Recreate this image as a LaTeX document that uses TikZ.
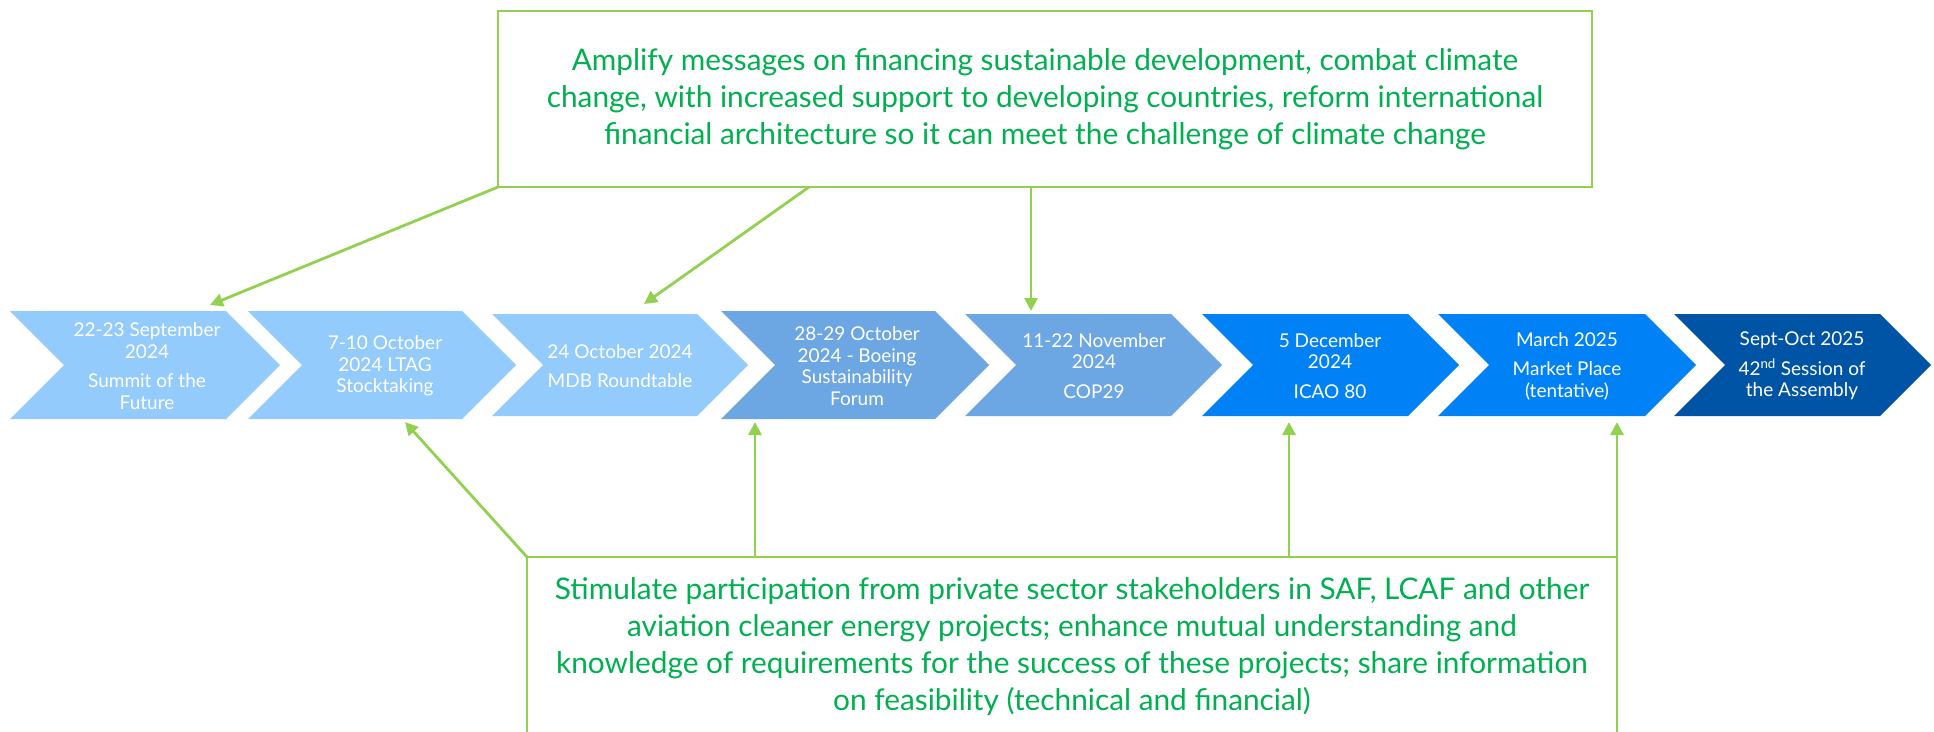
\documentclass[tikz,border=0pt]{standalone}
\usepackage{fontspec}
\setmainfont{Lato}
\usetikzlibrary{arrows.meta}

\definecolor{framegreen}{HTML}{92D050}
\definecolor{textgreen}{HTML}{00B050}
\definecolor{chevA}{HTML}{94CBFD}
\definecolor{chevB}{HTML}{6CA6E3}
\definecolor{chevC}{HTML}{0082F6}
\definecolor{chevD}{HTML}{0054A5}

\tikzset{
  goal/.style={draw=framegreen, line width=2.8pt, outer sep=0pt, text=textgreen, align=center, font=\fontsize{29.8}{37}\selectfont},
  link/.style={draw=framegreen, line width=2.8pt, -{Triangle[length=13pt,width=13pt]}},
  event/.style={text=white, align=center, font=\fontsize{19}{21.5}\selectfont},
}

\begin{document}
\begin{tikzpicture}[x=1pt,y=-1pt]
  \useasboundingbox (0,0) rectangle (1934,731);
  % the time line
  \fill[chevA] (10,311) -- ++(216,0) -- ++(54,54) -- ++(-54,54) -- ++(-216,0) -- ++(54,-54) -- cycle;
  \fill[chevA] (248,311) -- ++(214,0) -- ++(54,54) -- ++(-54,54) -- ++(-214,0) -- ++(54,-54) -- cycle;
  \fill[chevA] (492,314) -- ++(205,0) -- ++(51,51) -- ++(-51,51) -- ++(-205,0) -- ++(51,-51) -- cycle;
  \fill[chevB] (721,311) -- ++(214,0) -- ++(54,54) -- ++(-54,54) -- ++(-214,0) -- ++(54,-54) -- cycle;
  \fill[chevB] (965,314) -- ++(206,0) -- ++(51,51) -- ++(-51,51) -- ++(-206,0) -- ++(51,-51) -- cycle;
  \fill[chevC] (1202,314) -- ++(206,0) -- ++(51,51) -- ++(-51,51) -- ++(-206,0) -- ++(51,-51) -- cycle;
  \fill[chevC] (1438,314) -- ++(207,0) -- ++(51,51) -- ++(-51,51) -- ++(-207,0) -- ++(51,-51) -- cycle;
  \fill[chevD] (1674,314) -- ++(206,0) -- ++(51,51) -- ++(-51,51) -- ++(-206,0) -- ++(51,-51) -- cycle;
  \node[event] (summit) at (147,366) {22-23 September\\2024\\[8pt]Summit of the\\Future};
  \node[event] (ltag) at (385,366) {7-10 October\\2024 LTAG\\Stocktaking};
  \node[event] (mdb) at (620,366) {24 October 2024\\[8pt]MDB Roundtable};
  \node[event] (boeing) at (857,366) {28-29 October\\2024 - Boeing\\Sustainability\\Forum};
  \node[event] (cop) at (1094,366) {11-22 November\\2024\\[8pt]COP29};
  \node[event] (icao) at (1330,366) {5 December\\2024\\[8pt]ICAO 80};
  \node[event] (market) at (1567,366) {March 2025\\[8pt]Market Place\\(tentative)};
  \node[event] (assembly) at (1802,366) {Sept-Oct 2025\\[8pt]42\textsuperscript{nd} Session of\\the Assembly};
  % where the arrows meet the time line
  \coordinate (summit in) at (210,305);
  \coordinate (mdb in) at (644,304);
  \coordinate (cop in) at (1031,311);
  \coordinate (ltag out) at (405,422);
  \coordinate (boeing out) at (755,422);
  \coordinate (icao out) at (1289,422);
  \coordinate (market out) at (1617,422);
  % the two goals
  \node[goal, minimum width=1094pt, minimum height=176pt] (amplify) at (1045,99)
    {Amplify messages on financing sustainable development, combat climate\\change, with increased support to developing countries, reform international\\financial architecture so it can meet the challenge of climate change};
  \node[goal, draw=none, minimum width=1090pt, minimum height=180pt, anchor=north] (stimulate) at (1072,557)
    {Stimulate participation from private sector stakeholders in SAF, LCAF and other\\aviation cleaner energy projects; enhance mutual understanding and\\knowledge of requirements for the success of these projects; share information\\on feasibility (technical and financial)};
  \draw[draw=framegreen, line width=2.8pt] (stimulate.south west) -- (stimulate.north west) -- (stimulate.north east) -- (stimulate.south east);
  \draw[link] (amplify.south west) -- (summit in);
  \draw[link] (809,0 |- amplify.south) -- (mdb in);
  \draw[link] (cop in |- amplify.south) -- (cop in);
  \draw[link] (stimulate.north west) -- (ltag out);
  \draw[link] (boeing out |- stimulate.north) -- (boeing out);
  \draw[link] (icao out |- stimulate.north) -- (icao out);
  \draw[link] (stimulate.north east) -- (market out);
\end{tikzpicture}
\end{document}
